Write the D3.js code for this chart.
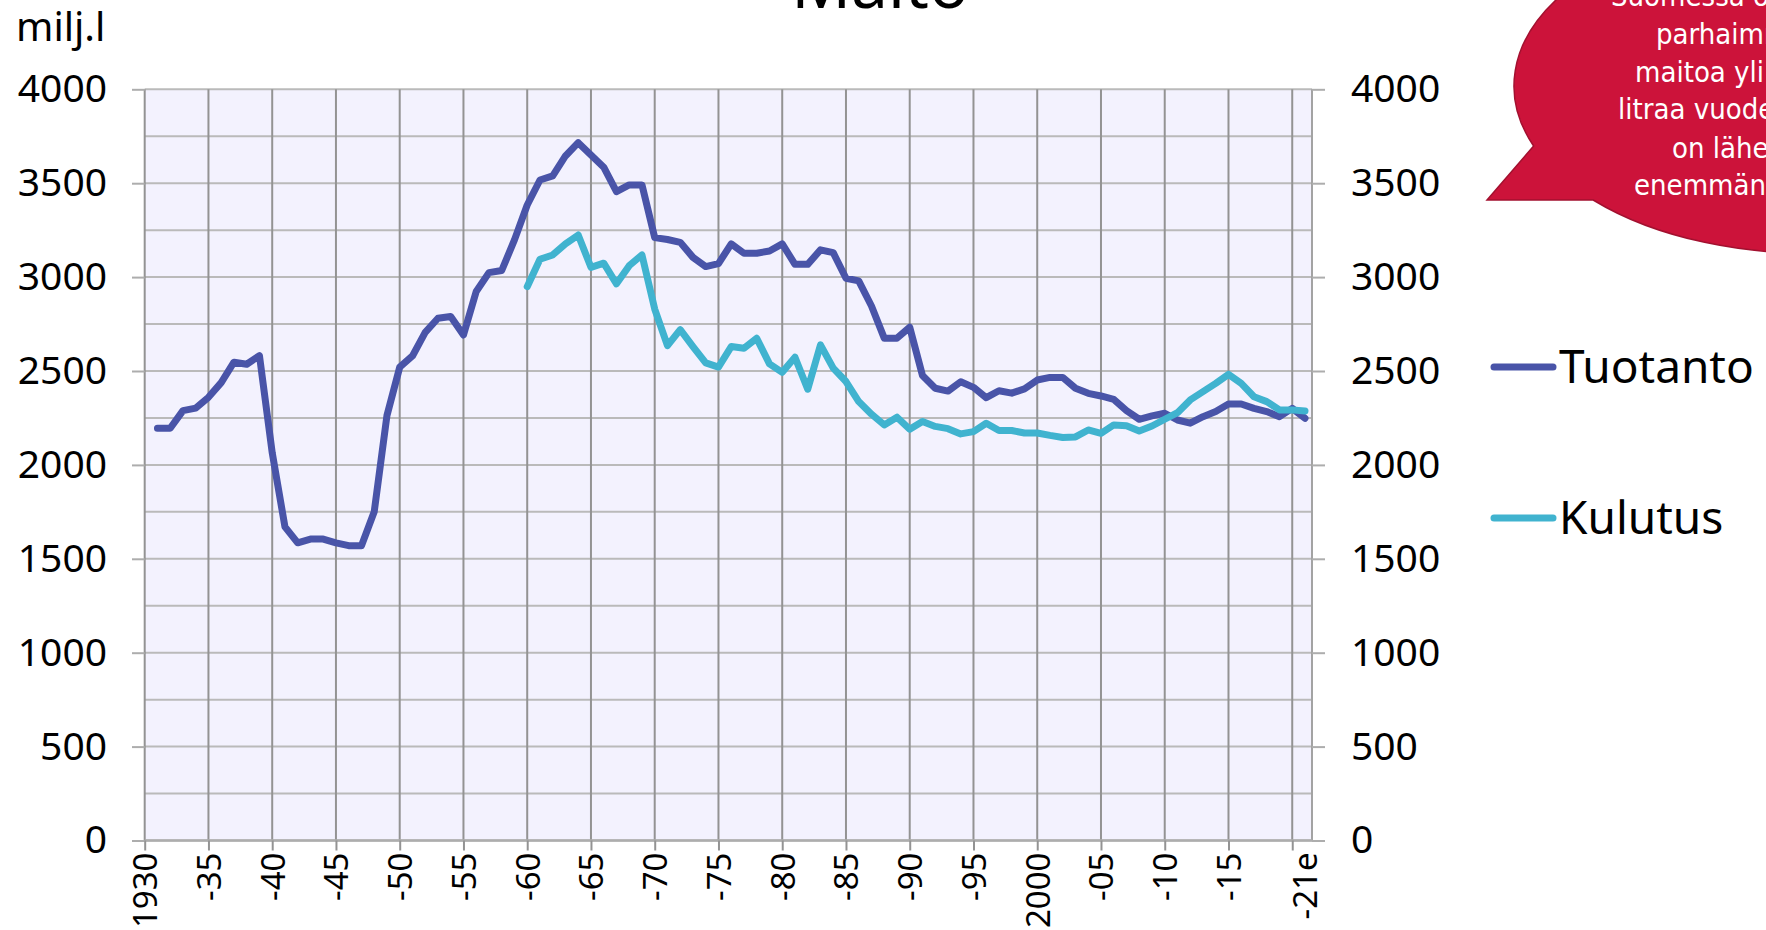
<!DOCTYPE html>
<html>
<head>
<meta charset="utf-8">
<script src="https://cdn.jsdelivr.net/npm/d3@7"></script>
<style>
  html, body { margin: 0; padding: 0; background: #ffffff; overflow: hidden; }
  svg { display: block; }
</style>
</head>
<body>
<svg id="chart" width="1766" height="930"></svg>
<script>
// Maidon tuotanto ja kulutus Suomessa, milj. litraa vuodessa
const productionYears = d3.range(1931, 2022);
const production = [
  2195, 2195, 2289, 2302, 2360, 2438, 2547, 2536, 2582, 2065,   // 1931-1940
  1670, 1585, 1605, 1605, 1585, 1570, 1570, 1750, 2263, 2520,   // 1941-1950
  2580, 2706, 2781, 2790, 2692, 2923, 3024, 3035, 3198, 3384,   // 1951-1960
  3517, 3539, 3645, 3716, 3650, 3585, 3455, 3491, 3491, 3210,   // 1961-1970
  3200, 3185, 3105, 3056, 3072, 3177, 3127, 3127, 3139, 3177,   // 1971-1980
  3068, 3068, 3145, 3130, 2994, 2980, 2846, 2675, 2675, 2733,   // 1981-1990
  2476, 2408, 2393, 2443, 2413, 2358, 2395, 2382, 2405, 2452,   // 1991-2000
  2466, 2466, 2408, 2381, 2367, 2349, 2289, 2243, 2261, 2275,   // 2001-2010
  2239, 2222, 2257, 2284, 2324, 2324, 2301, 2284, 2257, 2301,   // 2011-2020
  2248                                                          // 2021e
];

const consumptionYears = d3.range(1960, 2022);
const consumption = [
  2949,                                                         // 1960
  3095, 3118, 3177, 3224, 3052, 3074, 2964, 3061, 3118, 2830,   // 1961-1970
  2635, 2720, 2630, 2543, 2521, 2630, 2621, 2674, 2538, 2493,   // 1971-1980
  2573, 2403, 2639, 2515, 2444, 2337, 2270, 2213, 2254, 2190,   // 1981-1990
  2231, 2205, 2193, 2165, 2177, 2222, 2183, 2183, 2170, 2170,   // 1991-2000
  2157, 2146, 2149, 2186, 2168, 2213, 2209, 2181, 2207, 2243,   // 2001-2010
  2278, 2346, 2390, 2434, 2482, 2434, 2363, 2337, 2293, 2293,   // 2011-2020
  2287                                                          // 2021e
];

const gridYears = [1930, 1935, 1940, 1945, 1950, 1955, 1960, 1965, 1970, 1975,
                   1980, 1985, 1990, 1995, 2000, 2005, 2010, 2015, 2020];
const labelYears = [1930, 1935, 1940, 1945, 1950, 1955, 1960, 1965, 1970, 1975,
                    1980, 1985, 1990, 1995, 2000, 2005, 2010, 2015, 2021];
const labelTexts = ["1930", "-35", "-40", "-45", "-50", "-55", "-60", "-65", "-70", "-75",
                    "-80", "-85", "-90", "-95", "2000", "-05", "-10", "-15", "-21e"];
const valueTicks = [0, 500, 1000, 1500, 2000, 2500, 3000, 3500, 4000];
const gridValues = [0, 250, 500, 750, 1000, 1250, 1500, 1750, 2000, 2250,
                    2500, 2750, 3000, 3250, 3500, 3750, 4000];

const seriesNames = ["Tuotanto", "Kulutus"];
const seriesColors = ["#4954a8", "#40b3cf"];

const titleText = "Maito";
const unitText = "milj.l";
const calloutLines = [
  "Suomessa on",
  "parhaimmillaan",
  "maitoa yli 3,5 mrd",
  "litraa vuodessa, nyt",
  "on lähes",
  "enemmän"
];

// ---- layout ----
const plot = { left: 144.7, right: 1312, top: 89.3, bottom: 840.5 };
const FONT = "'Noto Sans', 'DejaVu Sans', sans-serif";

const svg = d3.select("#chart");

const x = d3.scaleLinear().domain([1930, 2021.55]).range([plot.left, plot.right]);
const y = d3.scaleLinear().domain([0, 4000]).range([plot.bottom, plot.top]);

// plot background
svg.append("rect")
  .attr("x", plot.left).attr("y", plot.top)
  .attr("width", plot.right - plot.left)
  .attr("height", plot.bottom - plot.top)
  .attr("fill", "#f3f2fe");

// horizontal gridlines every 250
svg.append("g").selectAll("line").data(gridValues).join("line")
  .attr("x1", plot.left).attr("x2", plot.right)
  .attr("y1", d => y(d)).attr("y2", d => y(d))
  .attr("stroke", "#bababa").attr("stroke-width", 2);

// vertical gridlines every 5 years
svg.append("g").selectAll("line").data(gridYears).join("line")
  .attr("x1", d => x(d)).attr("x2", d => x(d))
  .attr("y1", plot.top).attr("y2", plot.bottom)
  .attr("stroke", "#939393").attr("stroke-width", 2);

// right border of plot area
svg.append("line")
  .attr("x1", plot.right).attr("x2", plot.right)
  .attr("y1", plot.top).attr("y2", plot.bottom)
  .attr("stroke", "#a3a3a3").attr("stroke-width", 2);

// category axis line
svg.append("line")
  .attr("x1", plot.left).attr("x2", plot.right)
  .attr("y1", plot.bottom).attr("y2", plot.bottom)
  .attr("stroke", "#adadad").attr("stroke-width", 2.5);

// value axes
function styleValueAxis(g) {
  g.select(".domain").remove();
  g.selectAll(".tick line").attr("stroke", "#adadad").attr("stroke-width", 2);
  g.selectAll(".tick text")
    .attr("font-family", FONT).attr("font-size", 39).attr("fill", "#000");
}

svg.append("g")
  .attr("transform", `translate(${plot.left},0)`)
  .call(d3.axisLeft(y).tickValues(valueTicks).tickSize(12.7).tickPadding(25).tickFormat(d3.format("d")))
  .call(styleValueAxis);

svg.append("g")
  .attr("transform", `translate(${plot.right},0)`)
  .call(d3.axisRight(y).tickValues(valueTicks).tickSize(13).tickPadding(26).tickFormat(d3.format("d")))
  .call(styleValueAxis);

// category tick marks
svg.append("g")
  .attr("transform", `translate(0,${plot.bottom})`)
  .call(d3.axisBottom(x).tickValues(gridYears).tickSize(10).tickFormat(""))
  .call(g => {
    g.select(".domain").remove();
    g.selectAll(".tick line").attr("stroke", "#939393").attr("stroke-width", 2);
  });

// category labels, rotated
svg.append("g")
  .attr("transform", `translate(0,${plot.bottom})`)
  .call(d3.axisBottom(x).tickValues(labelYears).tickSize(0)
    .tickFormat(d => labelTexts[labelYears.indexOf(d)]))
  .call(g => {
    g.select(".domain").remove();
    g.selectAll(".tick text")
      .attr("font-family", FONT).attr("font-size", 33).attr("fill", "#000")
      .attr("transform", "rotate(-90)")
      .attr("x", -12).attr("y", 0).attr("dy", "0.36em")
      .attr("text-anchor", "end");
  });

// series lines
const line = d3.line().x(d => x(d.year)).y(d => y(d.value));
const series = [
  productionYears.map((yr, i) => ({ year: yr, value: production[i] })),
  consumptionYears.map((yr, i) => ({ year: yr, value: consumption[i] }))
];
svg.append("g").selectAll("path").data(series).join("path")
  .attr("d", line)
  .attr("fill", "none")
  .attr("stroke", (d, i) => seriesColors[i])
  .attr("stroke-width", 7)
  .attr("stroke-linejoin", "round")
  .attr("stroke-linecap", "round");

// legend
const legendRows = [367, 518];
const legend = svg.append("g");
seriesNames.forEach((name, i) => {
  legend.append("line")
    .attr("x1", 1494).attr("x2", 1553)
    .attr("y1", legendRows[i]).attr("y2", legendRows[i])
    .attr("stroke", seriesColors[i]).attr("stroke-width", 7)
    .attr("stroke-linecap", "round");
  legend.append("text")
    .attr("x", 1559).attr("y", legendRows[i] + 16)
    .attr("font-family", FONT).attr("font-size", 46).attr("fill", "#000")
    .text(name);
});

// title and unit
svg.append("text")
  .attr("x", 880).attr("y", 8)
  .attr("text-anchor", "middle")
  .attr("font-family", FONT).attr("font-size", 66).attr("fill", "#000")
  .text(titleText);

svg.append("text")
  .attr("x", 16).attr("y", 41)
  .attr("font-family", FONT).attr("font-size", 40).attr("fill", "#000")
  .text(unitText);

// speech-bubble callout
const bubble = { cx: 1808, cy: 86, rx: 294, ry: 167 };
function onEllipse(py) {
  const s = (py - bubble.cy) / bubble.ry;
  return [bubble.cx - bubble.rx * Math.sqrt(1 - s * s), py];
}
const p1 = onEllipse(146);
const p2 = onEllipse(200);
const tip = [1487, 200];
svg.append("path")
  .attr("d", `M${p1[0]},${p1[1]} L${tip[0]},${tip[1]} L${p2[0] - 8},${p2[1]} ` +
             `L${p2[0]},${p2[1]} A${bubble.rx},${bubble.ry} 0 1 0 ${p1[0]},${p1[1]} Z`)
  .attr("fill", "#cc133a")
  .attr("stroke", "#a3102f")
  .attr("stroke-width", 1.5);

const calloutX = [1611, 1656, 1635, 1618, 1672, 1634];
const calloutY = [6, 44, 82, 119, 158, 195];
svg.append("g").selectAll("text").data(calloutLines).join("text")
  .attr("x", (d, i) => calloutX[i])
  .attr("y", (d, i) => calloutY[i])
  .attr("font-family", "'DejaVu Sans Condensed', 'DejaVu Sans', sans-serif")
  .attr("font-stretch", "condensed")
  .attr("font-size", 29)
  .attr("fill", "#ffffff")
  .text(d => d);
</script>
</body>
</html>
